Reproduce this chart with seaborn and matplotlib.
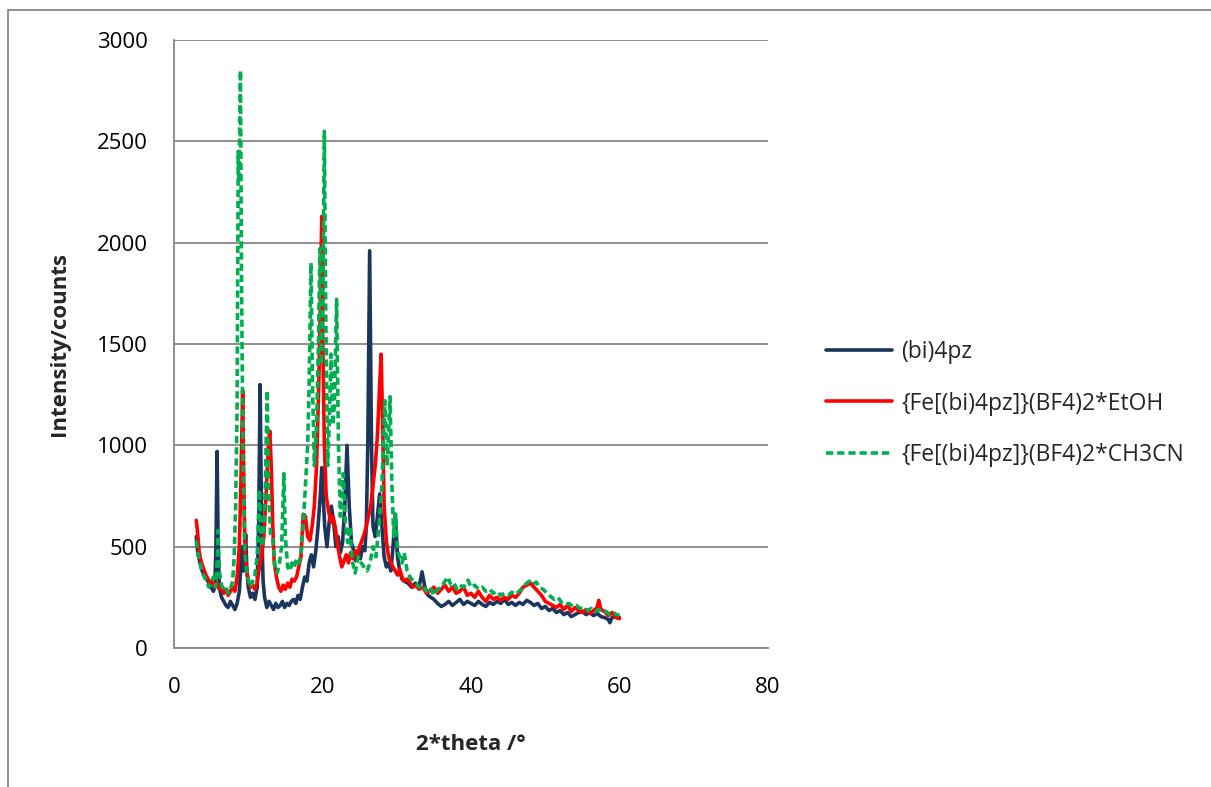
import matplotlib
matplotlib.use("Agg")
import matplotlib.pyplot as plt
from matplotlib.lines import Line2D
from matplotlib.patches import Rectangle
import seaborn as sns
import pandas as pd

# ---- diffraction patterns (2-theta in degrees, intensity in counts) ----
bi4pz_x = [3.0, 3.2, 3.5, 3.8, 4.1, 4.4, 4.7, 5.0, 5.3, 5.5, 5.65, 5.8, 5.95, 6.1, 6.4, 6.7,
           7.0, 7.3, 7.6, 7.9, 8.2, 8.5, 8.8, 9.0, 9.2, 9.35, 9.5, 9.65, 9.8, 10.0, 10.3, 10.6,
           10.9, 11.2, 11.4, 11.6, 11.8, 12.0, 12.2, 12.5, 12.8, 13.1, 13.4, 13.7, 14.0, 14.3,
           14.6, 14.9, 15.2, 15.5, 15.8, 16.1, 16.4, 16.7, 17.0, 17.3, 17.6, 17.9, 18.2, 18.5,
           18.8, 19.1, 19.4, 19.7, 19.9, 20.1, 20.3, 20.6, 20.9, 21.2, 21.5, 21.8, 22.1, 22.4,
           22.7, 23.0, 23.3, 23.6, 23.9, 24.2, 24.5, 24.8, 25.1, 25.4, 25.7, 25.9, 26.1, 26.35,
           26.6, 26.8, 27.1, 27.4, 27.7, 28.0, 28.3, 28.6, 28.9, 29.2, 29.5, 29.8, 30.1, 30.4,
           30.7, 31.0, 31.5, 32.0, 32.5, 33.0, 33.4, 33.8, 34.2, 34.6, 35.0, 35.5, 36.0, 36.5,
           37.0, 37.5, 38.0, 38.5, 39.0, 39.5, 40.0, 40.5, 41.0, 41.5, 42.0, 42.5, 43.0, 43.5,
           44.0, 44.5, 45.0, 45.5, 46.0, 46.5, 47.0, 47.5, 48.0, 48.5, 49.0, 49.5, 50.0, 50.5,
           51.0, 51.5, 52.0, 52.5, 53.0, 53.5, 54.0, 54.5, 55.0, 55.5, 56.0, 56.5, 57.0, 57.5,
           58.0, 58.5, 58.7, 59.0, 59.5, 60.0]
bi4pz_y = [550, 470, 420, 380, 360, 340, 320, 300, 280, 300, 500, 970, 500, 300, 250, 230,
           210, 200, 230, 210, 190, 220, 280, 400, 500, 380, 450, 560, 400, 300, 250, 270,
           240, 300, 600, 1300, 600, 330, 250, 200, 230, 210, 190, 220, 200, 210,
           230, 200, 220, 210, 230, 240, 220, 260, 240, 300, 350, 330, 420, 460,
           400, 480, 600, 750, 890, 750, 600, 500, 620, 700, 620, 500, 550, 470,
           520, 700, 1000, 700, 520, 480, 430, 470, 440, 500, 480, 600, 1000, 1960,
           1000, 600, 550, 650, 760, 600, 450, 400, 420, 380, 500, 660, 450, 380,
           340, 330, 320, 300, 320, 300, 376, 300, 260, 250, 240, 220, 205, 215,
           230, 210, 225, 240, 215, 230, 220, 210, 230, 215, 205, 225, 215, 230,
           220, 240, 215, 225, 210, 225, 215, 235, 225, 210, 220, 195, 205, 185,
           195, 175, 185, 165, 175, 155, 165, 175, 180, 165, 175, 160, 170, 155,
           150, 140, 125, 150, 160, 150]

etoh_x = [3.0, 3.15, 3.4, 3.7, 4.0, 4.3, 4.6, 4.9, 5.2, 5.5, 5.8, 6.1, 6.4, 6.7, 7.0, 7.3,
          7.6, 7.9, 8.2, 8.5, 8.8, 9.0, 9.25, 9.45, 9.6, 9.8, 10.0, 10.3, 10.6, 10.9, 11.2,
          11.5, 11.8, 12.1, 12.4, 12.7, 12.9, 13.1, 13.3, 13.5, 13.8, 14.1, 14.4, 14.7, 15.0,
          15.3, 15.6, 15.9, 16.2, 16.5, 16.8, 17.1, 17.4, 17.7, 18.0, 18.3, 18.6, 18.9, 19.2,
          19.5, 19.75, 19.9, 20.05, 20.25, 20.5, 20.8, 21.1, 21.4, 21.7, 22.0, 22.3, 22.6,
          22.9, 23.2, 23.5, 23.8, 24.1, 24.4, 24.7, 25.0, 25.3, 25.6, 25.9, 26.2, 26.5, 26.8,
          27.1, 27.4, 27.7, 27.9, 28.1, 28.3, 28.6, 28.9, 29.2, 29.5, 29.8, 30.1, 30.4, 30.7,
          31.0, 31.4, 31.8, 32.2, 32.6, 33.0, 33.5, 34.0, 34.5, 35.0, 35.5, 36.0, 36.5, 37.0,
          37.5, 38.0, 38.5, 39.0, 39.5, 40.0, 40.5, 41.0, 41.5, 42.0, 42.5, 43.0, 43.5, 44.0,
          44.5, 45.0, 45.5, 46.0, 46.5, 47.0, 47.5, 48.0, 48.5, 49.0, 49.5, 50.0, 50.5, 51.0,
          51.5, 52.0, 52.5, 53.0, 53.5, 54.0, 54.5, 55.0, 55.5, 56.0, 56.5, 57.0, 57.2, 57.5,
          58.0, 58.5, 59.0, 59.5, 60.0]
etoh_y = [630, 580, 470, 420, 390, 360, 340, 320, 330, 300, 320, 290, 300, 270, 290, 260,
          280, 300, 280, 350, 500, 800, 1270, 700, 450, 380, 330, 300, 310, 290, 320,
          400, 450, 550, 750, 1000, 1070, 900, 600, 420, 350, 300, 280, 310, 290,
          320, 300, 340, 330, 350, 400, 450, 660, 650, 550, 530, 600, 700, 900,
          1300, 1800, 2130, 1500, 1000, 750, 680, 620, 650, 600, 520, 450, 400,
          430, 460, 420, 470, 440, 480, 460, 500, 530, 560, 600, 650, 700, 800,
          900, 1050, 1300, 1450, 1100, 700, 530, 450, 420, 400, 380, 360, 390, 350,
          330, 340, 320, 300, 310, 290, 300, 270, 285, 300, 270, 290, 310, 280,
          300, 270, 280, 300, 260, 270, 250, 280, 250, 230, 260, 240, 250, 235,
          250, 240, 260, 250, 270, 300, 310, 320, 300, 280, 260, 230, 220, 210,
          200, 215, 190, 210, 180, 200, 185, 175, 190, 170, 185, 200, 235, 190,
          180, 160, 175, 150, 145]

ch3cn_x = [3.0, 3.2, 3.5, 3.8, 4.1, 4.4, 4.7, 5.0, 5.3, 5.6, 5.8, 5.95, 6.1, 6.4, 6.7, 7.0,
           7.3, 7.6, 7.9, 8.1, 8.3, 8.5, 8.65, 8.75, 8.95, 9.1, 9.3, 9.5, 9.7, 10.0, 10.3,
           10.6, 10.9, 11.2, 11.5, 11.7, 11.9, 12.1, 12.3, 12.55, 12.75, 13.0, 13.3, 13.6,
           13.9, 14.2, 14.5, 14.8, 15.0, 15.3, 15.6, 15.9, 16.2, 16.5, 16.8, 17.1, 17.4, 17.7,
           18.0, 18.2, 18.45, 18.65, 18.9, 19.2, 19.45, 19.65, 19.85, 20.05, 20.25, 20.45,
           20.7, 20.9, 21.15, 21.4, 21.6, 21.9, 22.15, 22.4, 22.8, 23.1, 23.4, 23.7, 24.0,
           24.4, 24.8, 25.2, 25.6, 26.0, 26.4, 26.8, 27.2, 27.6, 28.0, 28.4, 28.7, 29.1,
           29.35, 29.6, 29.85, 30.1, 30.4, 30.7, 31.0, 31.4, 31.8, 32.2, 32.6, 33.0, 33.5,
           34.0, 34.5, 35.0, 35.5, 36.0, 36.5, 36.9, 37.3, 37.7, 38.1, 38.5, 39.0, 39.6,
           40.0, 40.5, 41.0, 41.5, 42.0, 42.5, 43.0, 43.5, 44.0, 44.5, 45.0, 45.5, 46.0,
           46.5, 47.0, 47.5, 47.9, 48.3, 48.8, 49.2, 49.7, 50.2, 50.7, 51.2, 51.7, 52.2,
           52.7, 53.2, 53.7, 54.2, 54.7, 55.2, 55.7, 56.2, 56.7, 57.2, 57.7, 58.2, 58.7,
           59.2, 59.6, 60.0]
ch3cn_y = [530, 470, 420, 370, 350, 330, 300, 320, 350, 300, 420, 580, 380, 310, 290, 300,
           270, 290, 330, 450, 700, 1200, 2450, 2300, 2850, 1800, 900, 500, 400, 340, 300,
           330, 360, 450, 780, 550, 500, 580, 800, 1270, 800, 560, 540, 400,
           370, 420, 500, 860, 550, 400, 380, 420, 400, 440, 420, 460, 600, 800,
           1000, 1300, 1900, 1300, 900, 1100, 1500, 1970, 1400, 1700, 2550, 1600,
           900, 1100, 1450, 1100, 1200, 1720, 1000, 650, 860, 600, 520, 600, 430,
           370, 450, 420, 400, 380, 420, 500, 450, 600, 800, 1220, 900, 1240,
           800, 550, 660, 480, 450, 420, 470, 380, 350, 330, 320, 300, 310,
           280, 300, 260, 290, 300, 330, 350, 310, 320, 290, 310, 300, 335,
           300, 310, 290, 300, 280, 290, 270, 280, 260, 270, 260, 275, 265,
           280, 300, 320, 330, 315, 325, 300, 290, 270, 255, 240, 250, 225,
           215, 220, 205, 210, 195, 200, 185, 195, 180, 190, 175, 180, 165,
           175, 165, 160]

series_names = ["(bi)4pz", "{Fe[(bi)4pz]}(BF4)2*EtOH", "{Fe[(bi)4pz]}(BF4)2*CH3CN"]
x_ticks = [0, 20, 40, 60, 80]
y_ticks = [0, 500, 1000, 1500, 2000, 2500, 3000]

colors = ["#1B365D", "#FF0000", "#00B050"]

sns.set_theme(style="white")
plt.rcParams["font.family"] = ["Open Sans", "DejaVu Sans"]

fig = plt.figure(figsize=(12.11, 7.87), dpi=100)
W, H = 1211, 787

# outer chart-area frame
fig.patches.append(Rectangle((8 / W, -0.05), 1.2, 1 - 10 / H + 0.05,
                             transform=fig.transFigure, fill=False,
                             edgecolor="#868686", linewidth=1.3, zorder=0))

ax = fig.add_axes([174 / W, 1 - 648 / H, (768 - 174) / W, (648 - 40) / H])

frames = [
    pd.DataFrame({"theta": bi4pz_x, "counts": bi4pz_y}),
    pd.DataFrame({"theta": etoh_x, "counts": etoh_y}),
    pd.DataFrame({"theta": ch3cn_x, "counts": ch3cn_y}),
]
styles = ["-", "-", (0, (2.0, 1.1))]
for df, c, ls in zip(frames, colors, styles):
    sns.lineplot(data=df, x="theta", y="counts", ax=ax, color=c, linewidth=2.6,
                 estimator=None, sort=False, linestyle=ls, zorder=3)

ax.set_xlim(0, 80)
ax.set_ylim(0, 3000)
ax.set_xticks(x_ticks)
ax.set_yticks(y_ticks)
ax.set_xticklabels([str(v) for v in x_ticks], fontsize=16)
ax.set_yticklabels([str(v) for v in y_ticks], fontsize=16)
ax.tick_params(axis="both", length=0, colors="black")
ax.tick_params(axis="y", pad=19)
ax.tick_params(axis="x", pad=21)

ax.yaxis.grid(True, color="#868686", linewidth=1.3)
ax.xaxis.grid(False)
ax.set_axisbelow(True)
for side in ["top", "right"]:
    ax.spines[side].set_visible(False)
for side in ["left", "bottom"]:
    ax.spines[side].set_color("#868686")
    ax.spines[side].set_linewidth(1.3)

ax.set_xlabel("2*theta /°", fontsize=16, fontweight="bold", labelpad=26)
ax.set_ylabel("Intensity/counts", fontsize=16, fontweight="bold", labelpad=19)

handles = [Line2D([], [], color=c, linewidth=2.6, linestyle=ls)
           for c, ls in zip(colors, styles)]
fig.legend(handles, series_names, loc="upper left",
           bbox_to_anchor=(826 / W, 1 - 340 / H), frameon=False,
           fontsize=16.5, handlelength=2.9, handletextpad=0.4,
           labelspacing=1.2, borderpad=0, borderaxespad=0)

fig.savefig("out.png", dpi=100)
